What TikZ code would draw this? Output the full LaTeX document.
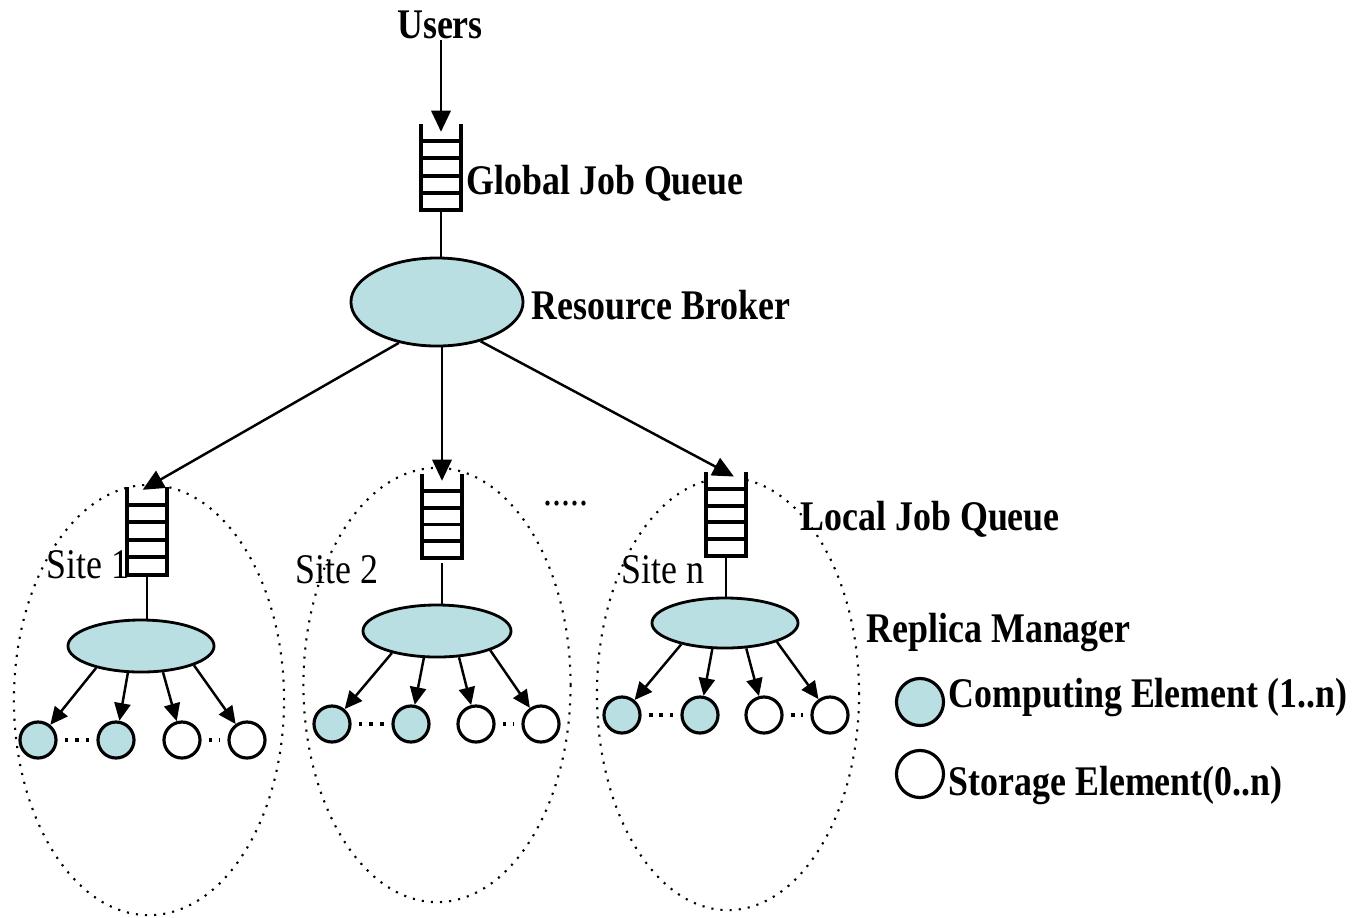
\documentclass[tikz,border=0pt]{standalone}
\usepackage{fontspec}
\setmainfont{Liberation Serif}[FakeStretch=0.85]
\usetikzlibrary{arrows.meta,shapes.geometric,calc}
\definecolor{gridcyan}{RGB}{185,223,227}
\tikzset{
  lbl/.style={font=\fontsize{12}{14}\selectfont\bfseries, inner sep=0pt, anchor=west},
  sitelbl/.style={font=\fontsize{12}{14}\selectfont, inner sep=0pt, anchor=west},
  jq/.style={fill=white, inner sep=0pt, minimum width=3.9mm, minimum height=8.5mm},
  qline/.style={line width=1.1pt},
  link/.style={line width=0.7pt},
  broker/.style={ellipse, draw, line width=0.8pt, fill=gridcyan, inner sep=0pt},
  ce/.style={circle, draw, line width=0.9pt, fill=gridcyan, minimum size=3.6mm, inner sep=0pt},
  se/.style={circle, draw, line width=0.9pt, fill=white, minimum size=3.6mm, inner sep=0pt},
  site/.style={ellipse, draw, dotted, line width=0.6pt, inner sep=0pt},
  arr/.style={-{Triangle[length=6pt,width=5.5pt]}, line width=0.7pt},
  sarr/.style={-{Triangle[length=5pt,width=4.6pt]}, line width=0.7pt},
  gap/.style={line width=1.3pt, dash pattern=on 1.1pt off 1.9pt, shorten <=2pt, shorten >=2pt},
}
% open-topped queue drawn on a named jq node
\newcommand{\jobqueue}[1]{%
  \draw[qline] (#1.north west) -- (#1.south west) -- (#1.south east) -- (#1.north east);
  \foreach \f in {0.2,0.4,0.6,0.8}
    \draw[qline] ($(#1.north west)!\f!(#1.south west)$) -- ($(#1.north east)!\f!(#1.south east)$);
}

\begin{document}
\begin{tikzpicture}[x=0.01cm, y=-0.01cm]
    \useasboundingbox (0,0) rectangle (1363,917);
    % sites
    \node[site, minimum width=2.70cm, minimum height=4.30cm] (site1) at (149,700) {};
    \node[site, minimum width=2.67cm, minimum height=4.34cm] (site2) at (437,685) {};
    \node[site, minimum width=2.62cm, minimum height=4.32cm] (siten) at (728,694) {};
    \node[sitelbl] (s1lbl) at (46,565) {Site 1};
    \node[sitelbl] (s2lbl) at (295,570) {Site 2};
    \node[sitelbl] (snlbl) at (621,570) {Site n};
    \node[sitelbl, anchor=base west] (more) at (543,505) {.....};
    % global part
    \node[lbl, anchor=center] (users) at (440,25) {Users};
    \node[jq] (gq) at (441,167) {};
    \jobqueue{gq}
    \node[lbl] (gqlbl) at (466,183) {Global Job Queue};
    \node[broker, minimum width=1.72cm, minimum height=0.88cm] (rb) at (437,302) {};
    \node[lbl] (rblbl) at (531,305) {Resource Broker};
    \draw[arr, shorten >=-0.8mm] (users.south -| gq.north) -- (gq.north);
    \draw[link] (gq.south) -- (gq.south |- rb.north);
    % local queues and replica managers
    \node[jq, minimum height=8.6mm] (q1) at (147,531) {};
    \node[jq, minimum height=8.3mm] (q2) at (442,516) {};
    \node[jq, minimum height=8.2mm] (qn) at (726,514) {};
    \jobqueue{q1}
    \jobqueue{q2}
    \jobqueue{qn}
    \node[lbl] (ljqlbl) at (800,519) {Local Job Queue};
    \draw[arr, shorten >=-0.5mm] (rb.-133) -- (q1.north);
    \draw[arr, shorten >=-0.7mm] (rb.south -| q2.north) -- (q2.north);
    \draw[arr, shorten >=-0.9mm] (rb.-42) -- (qn.north);
    \node[broker, minimum width=1.46cm, minimum height=0.52cm] (rm1) at (141,646) {};
    \node[broker, minimum width=1.48cm, minimum height=0.52cm] (rm2) at (437,631) {};
    \node[broker, minimum width=1.46cm, minimum height=0.50cm] (rmn) at (725,623) {};
    \node[lbl] (rmlbl) at (866,632) {Replica Manager};
    \draw[link] (q1.south) -- (q1.south |- rm1.north);
    \draw[link, shorten <=0.5mm] (q2.south) -- (q2.south |- rm2.north);
    \draw[link] (qn.south) -- (qn.south |- rmn.north);
    % computing and storage elements
    \foreach \s/\y/\a/\b/\c/\d in {1/740/38/116/182/247, 2/724/332/411/476/541, n/715/622/700/764/830} {
      \node[ce] (ce\s a) at (\a,\y) {};
      \node[ce] (ce\s b) at (\b,\y) {};
      \node[se] (se\s a) at (\c,\y) {};
      \node[se] (se\s b) at (\d,\y) {};
      \draw[gap] (ce\s a) -- (ce\s b);
      \draw[gap] (se\s a) -- (se\s b);
      \draw[sarr] (rm\s.-154) -- (ce\s a);
      \draw[sarr] (rm\s.-116) -- (ce\s b);
      \draw[sarr] (rm\s.-50) -- (se\s a);
      \draw[sarr] (rm\s.-20) -- (se\s b);
    }
    % legend
    \node[ce, minimum size=4.7mm] (legce) at (920,702) {};
    \node[lbl] (celbl) at (948,697) {Computing Element (1..n)};
    \node[se, minimum size=4.7mm] (legse) at (920,774) {};
    \node[lbl] (selbl) at (948,785) {Storage Element(0..n)};
  \end{tikzpicture}
\end{document}
